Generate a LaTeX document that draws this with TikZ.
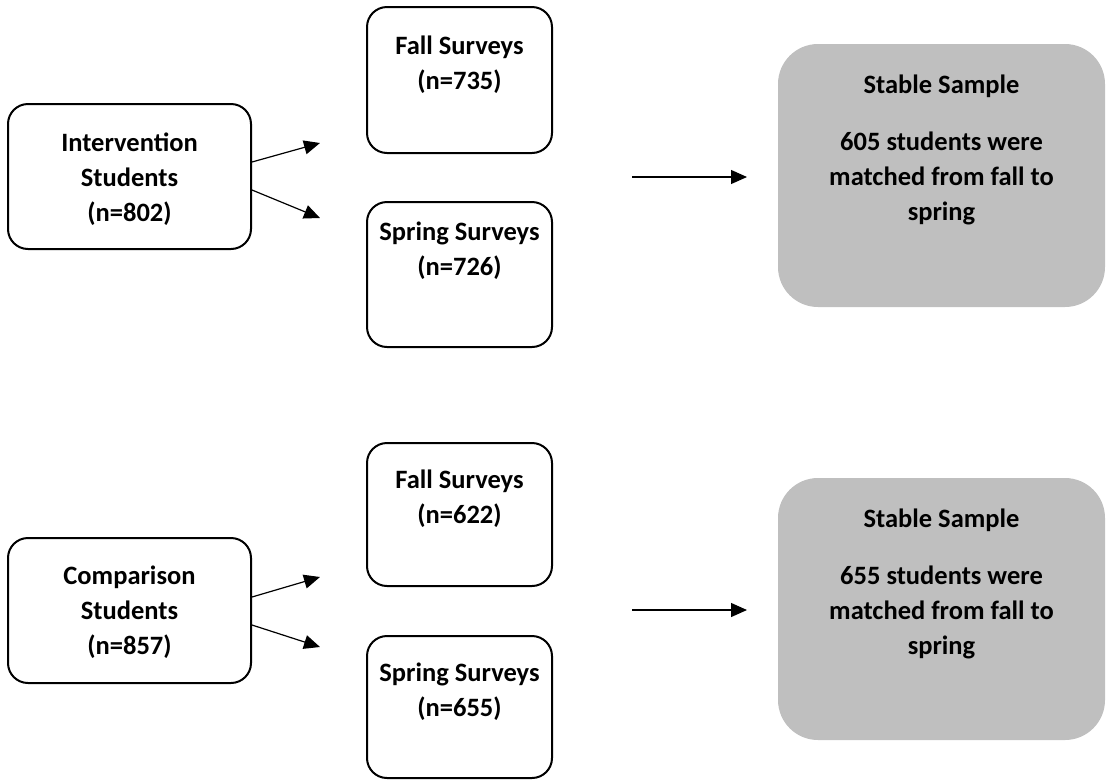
\documentclass[tikz,border=0pt]{standalone}
\usepackage{fontspec}
\setmainfont{Carlito}
\usetikzlibrary{arrows.meta}
\definecolor{sgray}{HTML}{BFBFBF}
\begin{document}
\begin{tikzpicture}[x=1pt,y=-1pt,
  box/.style={draw=black, line width=2pt, rounded corners=20pt, fill=white, inner sep=0pt},
  gbox/.style={fill=sgray, rounded corners=40pt, inner sep=0pt},
  txt/.style={font=\fontsize{26.5}{35}\selectfont\bfseries, align=center, inner sep=0pt, anchor=base},
  conn/.style={line width=1.2pt, -{Triangle[length=16pt,width=14pt]}}]
\useasboundingbox (0,0) rectangle (1106,780);

% ---- top group ----
\node[box, minimum width=243pt, minimum height=145pt] (int) at (129.5,176.5) {};
\node[box, minimum width=185pt, minimum height=146pt] (fall1) at (459.5,80) {};
\node[box, minimum width=185pt, minimum height=145pt] (spr1) at (459.5,274.5) {};
\node[gbox, minimum width=327pt, minimum height=263pt] (stab1) at (941.5,175.5) {};

% anchor=base is the baseline of the last line
\node[txt] (tint) at (129.5,221) {Intervention\\Students\\(n=802)};
\node[txt] (tfall1) at (459.5,89) {Fall Surveys\\(n=735)};
\node[txt] (tspr1) at (459.5,275) {Spring Surveys\\(n=726)};
\node[txt] (tstab1) at (941.5,220) {Stable Sample\\[22pt]605 students were\\matched from fall to\\spring};

\coordinate (a1) at (320,143);
\coordinate (a2) at (320,218);
\coordinate (h1s) at (632,177);
\coordinate (h1e) at (747,177);
\draw[conn] ([yshift=14.5pt]int.east) -- (a1);
\draw[conn] ([yshift=-13.5pt]int.east) -- (a2);
\draw[conn] (h1s) -- (h1e);

% ---- bottom group ----
\node[box, minimum width=243pt, minimum height=145pt] (comp) at (129.5,610.5) {};
\node[box, minimum width=185pt, minimum height=143pt] (fall2) at (459.5,514.5) {};
\node[box, minimum width=185pt, minimum height=142pt] (spr2) at (459.5,707) {};
\node[gbox, minimum width=327pt, minimum height=262pt] (stab2) at (941.5,609) {};

\node[txt] (tcomp) at (129.5,654) {Comparison\\Students\\(n=857)};
\node[txt] (tfall2) at (459.5,523) {Fall Surveys\\(n=622)};
\node[txt] (tspr2) at (459.5,716) {Spring Surveys\\(n=655)};
\node[txt] (tstab2) at (941.5,654) {Stable Sample\\[22pt]655 students were\\matched from fall to\\spring};

\coordinate (b1) at (320,577);
\coordinate (b2) at (320,647);
\coordinate (h2s) at (632,610);
\coordinate (h2e) at (747,610);
\draw[conn] ([yshift=13.5pt]comp.east) -- (b1);
\draw[conn] ([yshift=-14.5pt]comp.east) -- (b2);
\draw[conn] (h2s) -- (h2e);
\end{tikzpicture}
\end{document}
